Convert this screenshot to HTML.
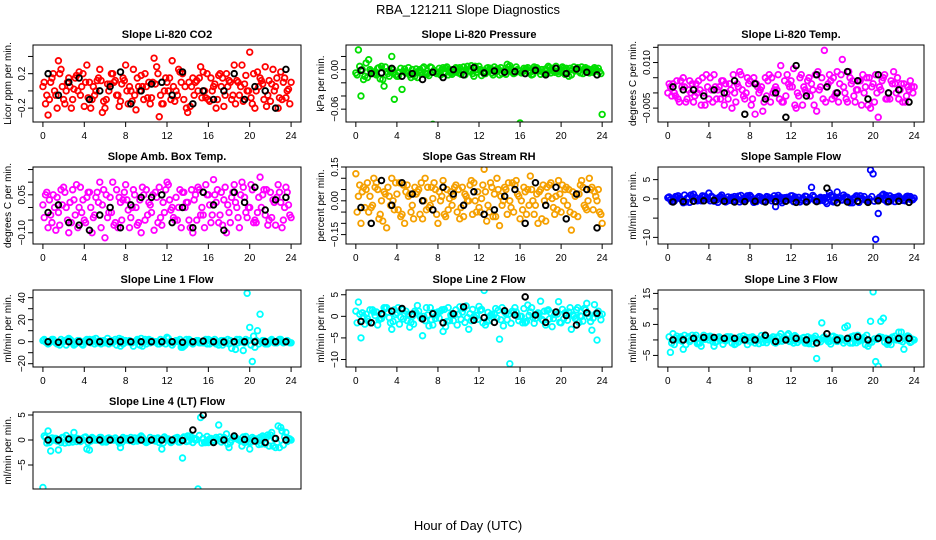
<!DOCTYPE html>
<html><head><meta charset="utf-8"><style>
body{margin:0;background:#fff}
svg{display:block;font-family:"Liberation Sans",sans-serif}
</style></head><body>
<svg id="c" width="936" height="540" viewBox="0 0 936 540">
<text x="468" y="14" text-anchor="middle" font-size="13">RBA_121211  Slope Diagnostics</text>
<text x="468" y="530" text-anchor="middle" font-size="13">Hour of Day (UTC)</text>
</svg>
<script>
const hrsA=[0,0.5,1,1.5,2,2.5,3,3.5,4,4.5,5,5.5,6,6.5,7,7.5,8,8.5,9,9.5,10,10.5,11,11.5,12,12.5,13,13.5,14,14.5,15,15.5,16,16.5,17,17.5,18,18.5,19,19.5,20,20.5,21,21.5,22,22.5,23,23.5,24];
const hrsB=[0.25,0.75,1.25,1.75,2.25,2.75,3.25,3.75,4.25,4.75,5.25,5.75,6.25,6.75,7.25,7.75,8.25,8.75,9.25,9.75,10.25,10.75,11.25,11.75,12.25,12.75,13.25,13.75,14.25,14.75,15.25,15.75,16.25,16.75,17.25,17.75,18.25,18.75,19.25,19.75,20.25,20.75,21.25,21.75,22.25,22.75,23.25,23.75];
const hrsC=[0.125,0.625,1.125,1.625,2.125,2.625,3.125,3.625,4.125,4.625,5.125,5.625,6.125,6.625,7.125,7.625,8.125,8.625,9.125,9.625,10.125,10.625,11.125,11.625,12.125,12.625,13.125,13.625,14.125,14.625,15.125,15.625,16.125,16.625,17.125,17.625,18.125,18.625,19.125,19.625,20.125,20.625,21.125,21.625,22.125,22.625,23.125,23.625];
const hrsD=[0.375,0.875,1.375,1.875,2.375,2.875,3.375,3.875,4.375,4.875,5.375,5.875,6.375,6.875,7.375,7.875,8.375,8.875,9.375,9.875,10.375,10.875,11.375,11.875,12.375,12.875,13.375,13.875,14.375,14.875,15.375,15.875,16.375,16.875,17.375,17.875,18.375,18.875,19.375,19.875,20.375,20.875,21.375,21.875,22.375,22.875,23.375,23.875];
const hrsK=[0.5,1.5,2.5,3.5,4.5,5.5,6.5,7.5,8.5,9.5,10.5,11.5,12.5,13.5,14.5,15.5,16.5,17.5,18.5,19.5,20.5,21.5,22.5,23.5];
const xTicks=[0,4,8,12,16,20,24];

const co2A=[0.05,-0.28,0.2,0.35,-0.1,0.15,0.02,0.22,-0.18,0.1,-0.05,0.25,-0.2,0.08,0.12,-0.12,0.3,0.0,-0.22,0.18,0.05,-0.08,0.28,-0.15,0.1,0.35,-0.05,0.2,-0.25,0.15,0.0,0.22,-0.1,0.05,0.18,-0.18,0.12,0.3,-0.05,0.08,0.45,-0.2,0.15,0.28,-0.12,0.05,0.22,-0.08,0.1];
const co2B=[-0.15,0.1,-0.05,0.25,0.0,-0.2,0.18,0.05,0.3,-0.1,0.12,-0.25,0.08,0.2,-0.05,0.15,-0.15,0.25,0.05,-0.1,0.1,0.38,-0.3,0.0,0.15,-0.12,0.22,0.05,-0.18,0.1,0.28,-0.08,0.15,-0.2,0.05,0.2,-0.1,0.12,0.3,0.0,-0.15,0.22,0.08,-0.05,0.25,-0.2,0.1,0.02];
const co2C=[0.1,-0.1,0.0,0.2,-0.15,0.05,0.15,-0.05,0.1,-0.2,0.0,0.12,-0.1,0.2,-0.05,0.08,0.0,-0.12,0.15,0.05,-0.08,0.1,0.2,-0.15,0.0,0.05,0.25,-0.1,0.1,-0.05,0.15,0.0,-0.12,0.08,0.2,-0.05,0.1,-0.15,0.05,0.18,-0.08,0.0,0.12,-0.18,0.08,0.15,-0.1,0.0];
const co2D=[-0.05,0.15,-0.2,0.05,0.1,-0.1,0.0,0.2,-0.08,0.05,0.15,-0.12,0.0,0.1,-0.18,0.12,0.05,-0.05,0.0,0.2,-0.15,0.08,-0.05,0.15,-0.1,0.0,0.1,-0.2,0.05,0.12,-0.08,0.2,0.0,-0.1,0.15,0.05,-0.05,0.1,-0.12,0.0,0.2,0.05,-0.1,0.12,0.0,-0.08,0.15,-0.15];
const co2K=[0.2,-0.05,0.1,0.15,-0.1,0.0,0.05,0.22,-0.15,0.0,0.08,0.1,-0.05,0.22,-0.15,0.0,-0.1,0.0,0.2,-0.1,0.05,0.0,-0.2,0.25];

const presA=[-0.005,-0.04,0.01,-0.002,-0.008,0.005,-0.003,0.02,-0.01,-0.03,-0.005,0.0,-0.012,0.002,-0.006,-0.083,-0.004,0.003,-0.008,0.0,-0.005,0.004,-0.002,-0.01,0.005,-0.006,0.0,0.004,-0.008,-0.003,0.006,-0.005,-0.081,0.0,-0.004,0.002,-0.007,0.001,-0.005,0.005,-0.003,0.002,-0.008,0.0,0.004,-0.003,0.0,-0.002,-0.068];
const presB=[0.03,-0.015,0.015,-0.006,0.003,-0.025,-0.01,-0.045,-0.004,0.001,-0.008,-0.01,0.0,-0.006,0.004,-0.003,-0.008,0.002,-0.005,0.003,-0.007,0.0,0.006,-0.004,-0.009,0.002,-0.005,0.001,-0.006,0.008,-0.004,0.0,-0.003,0.003,-0.007,0.001,-0.004,0.005,-0.002,-0.006,0.002,-0.01,0.004,-0.002,0.001,-0.005,0.003,-0.003];
const presC=[-0.008,0.0,-0.012,-0.004,0.002,-0.015,-0.006,0.0,-0.01,-0.003,0.003,-0.007,-0.002,0.004,-0.009,-0.001,0.002,-0.006,0.0,-0.004,0.003,-0.008,-0.002,0.005,0.0,-0.006,0.002,-0.004,0.003,-0.007,0.0,0.004,-0.005,0.001,-0.008,0.003,0.0,-0.006,0.002,-0.003,0.004,-0.005,0.0,0.003,-0.006,0.001,-0.004,0.002];
const presD=[0.005,-0.01,0.0,-0.006,-0.014,0.004,-0.003,-0.008,0.002,-0.005,-0.012,0.001,-0.004,-0.007,0.003,-0.006,0.0,0.004,-0.007,0.002,-0.003,0.005,-0.006,0.0,-0.004,0.003,-0.008,0.001,-0.002,0.004,-0.006,-0.002,0.002,-0.005,0.004,-0.002,-0.006,0.003,-0.004,0.001,-0.007,0.002,-0.002,-0.005,0.003,-0.003,0.001,-0.006];
const presK=[-0.001,-0.006,-0.005,0.002,-0.01,-0.006,-0.015,-0.004,-0.012,0.0,-0.008,0.003,-0.005,-0.002,-0.004,-0.003,-0.006,-0.001,-0.008,0.002,-0.006,0.001,-0.004,-0.008];

const tempA=[0.0,0.003,-0.002,0.005,0.001,-0.003,0.004,0.0,-0.002,0.006,0.002,-0.004,0.003,0.0,0.007,-0.002,0.004,-0.007,0.001,0.005,-0.003,0.002,0.009,-0.001,0.004,-0.005,0.006,0.0,0.003,-0.006,0.005,0.002,-0.002,0.007,0.011,-0.003,0.004,0.001,0.006,-0.004,0.003,-0.008,0.005,0.0,0.007,-0.002,0.003,0.001,0.002];
const tempB=[0.002,-0.001,0.004,-0.003,0.0,0.003,-0.004,0.006,0.001,-0.002,0.004,0.0,-0.005,0.003,0.001,0.005,-0.002,0.002,-0.006,0.004,0.0,0.006,-0.003,0.003,0.008,-0.001,0.002,0.005,-0.004,0.001,0.014,0.006,-0.001,0.003,0.0,0.005,-0.003,0.004,0.002,-0.005,0.006,0.001,-0.002,0.004,0.0,0.003,-0.001,0.002];
const tempC=[0.003,0.0,-0.003,0.002,0.004,-0.001,0.001,-0.004,0.005,0.002,-0.002,0.003,0.001,-0.003,0.006,0.0,-0.004,0.003,0.002,-0.001,0.005,0.001,-0.003,0.006,0.002,0.0,-0.004,0.004,0.001,0.007,-0.002,0.003,0.005,-0.003,0.002,0.007,-0.001,0.004,0.0,0.005,-0.003,0.002,0.006,-0.002,0.003,0.001,-0.003,0.004];
const tempD=[-0.001,0.004,0.002,-0.002,0.003,0.0,0.005,0.002,-0.003,0.001,0.004,-0.002,0.006,0.002,-0.001,0.003,0.005,0.0,-0.003,0.006,0.001,-0.002,0.004,0.002,-0.004,0.005,0.001,-0.001,0.006,0.002,-0.003,0.004,0.0,0.006,-0.002,0.003,0.001,-0.004,0.005,0.002,0.0,0.004,-0.002,0.003,0.005,-0.003,0.002,0.0];
const tempK=[0.002,0.001,0.001,-0.001,0.001,0.0,0.004,-0.007,0.003,-0.002,0.0,-0.008,0.009,-0.001,0.006,0.002,0.0,0.007,0.004,-0.002,0.006,0.0,0.001,-0.003];

const ambA=[0.01,-0.08,0.05,-0.02,0.08,-0.1,0.03,0.0,-0.05,0.06,-0.03,0.1,-0.12,0.04,-0.06,0.02,0.09,-0.04,0.0,-0.1,0.07,-0.02,0.04,-0.07,0.1,0.0,-0.05,0.06,0.02,-0.1,0.08,-0.03,0.05,0.11,-0.06,0.03,-0.02,0.09,-0.08,0.04,0.0,-0.05,0.12,-0.03,0.06,-0.07,0.02,0.08,-0.04];
const ambB=[0.05,-0.03,-0.09,0.07,0.0,-0.06,0.09,-0.02,0.04,-0.1,0.06,0.01,-0.04,0.1,-0.08,0.03,-0.01,0.07,-0.06,0.05,0.02,-0.09,0.08,-0.02,0.03,-0.05,0.07,0.0,-0.08,0.05,-0.03,0.09,-0.06,0.02,0.06,-0.1,0.04,0.0,0.1,-0.04,0.07,-0.02,0.05,-0.07,0.03,0.09,-0.05,0.01];
const ambC=[-0.04,0.03,0.0,-0.07,0.06,0.02,-0.03,0.08,-0.06,0.0,0.04,-0.08,0.05,-0.02,0.07,-0.05,0.03,0.0,-0.07,0.08,-0.03,0.05,-0.06,0.02,0.09,-0.04,0.0,0.06,-0.05,0.03,0.07,-0.08,0.01,0.05,-0.03,0.08,-0.06,0.02,0.05,-0.02,0.09,-0.06,0.0,0.07,-0.04,0.04,-0.08,0.06];
const ambD=[0.06,-0.06,0.04,0.01,-0.05,0.07,-0.08,0.03,0.06,-0.04,0.02,0.07,-0.02,-0.07,0.04,0.06,-0.08,0.05,0.03,-0.05,0.01,0.06,-0.04,0.07,-0.01,0.04,-0.08,0.02,0.07,-0.05,0.0,0.05,-0.03,0.07,-0.07,0.01,0.06,-0.04,0.08,0.0,-0.06,0.04,0.07,-0.05,0.02,0.06,0.0,-0.03];
const ambK=[-0.02,0.01,-0.06,-0.07,-0.09,-0.03,0.0,-0.08,0.01,0.04,0.04,0.05,-0.06,0.0,-0.08,0.06,0.01,-0.09,0.06,0.02,0.08,-0.01,0.03,0.04];

const rhA=[0.12,-0.1,0.05,-0.03,0.08,0.0,-0.12,0.1,0.03,-0.06,0.07,-0.02,0.04,-0.08,0.06,0.01,-0.1,0.09,-0.04,0.02,0.05,-0.07,0.0,0.08,-0.03,0.14,-0.05,0.03,-0.11,0.06,0.0,0.07,-0.08,0.04,0.11,-0.02,0.05,-0.09,0.08,0.02,-0.05,0.06,-0.13,0.03,0.09,-0.04,0.06,0.0,-0.1];
const rhB=[0.02,0.06,-0.05,0.1,-0.08,0.04,0.02,-0.04,0.08,-0.1,0.03,0.06,-0.06,0.1,-0.02,0.05,0.0,-0.07,0.04,0.07,-0.03,0.02,0.09,-0.05,0.01,-0.09,0.06,0.1,-0.02,-0.06,0.08,0.03,-0.04,0.05,0.0,-0.1,0.07,0.02,-0.03,0.09,0.0,0.05,-0.06,0.03,-0.02,0.1,0.04,-0.05];
const rhC=[-0.05,0.04,0.08,-0.02,0.05,-0.09,0.06,0.0,-0.04,0.07,0.02,-0.08,0.05,0.0,-0.03,0.08,0.04,-0.06,0.01,0.06,-0.08,0.03,0.07,0.0,-0.05,0.04,0.08,-0.07,0.02,0.05,-0.03,0.09,0.0,-0.06,0.05,0.03,-0.08,0.06,0.01,-0.04,0.07,-0.02,0.04,-0.07,0.06,0.0,-0.04,0.05];
const rhD=[0.07,-0.03,0.02,0.06,-0.06,0.03,-0.02,0.08,-0.07,0.04,-0.05,0.03,0.08,-0.04,0.06,-0.06,0.02,0.05,-0.02,-0.05,0.06,0.0,-0.06,0.04,0.07,-0.02,-0.07,0.05,0.0,0.08,-0.05,0.02,0.06,-0.02,-0.06,0.04,0.0,0.07,-0.06,0.03,0.05,-0.05,0.02,0.07,-0.03,0.05,0.02,-0.06];
const rhK=[-0.03,-0.1,0.09,-0.02,0.08,0.03,0.0,-0.04,0.06,0.03,-0.02,0.04,-0.06,-0.04,0.02,0.05,-0.1,0.08,-0.02,0.06,-0.08,0.03,0.05,-0.12];

const sfA=[0.3,-0.5,0.8,-1.0,0.2,1.2,-0.3,0.5,1.5,-0.6,0.4,0.0,-0.4,0.6,-0.8,0.3,0.9,-0.2,0.5,-0.7,0.2,-2.0,0.4,-0.5,0.8,0.0,-0.3,0.6,3.0,-0.4,0.2,-1.2,0.5,1.8,-0.3,0.4,-1.0,0.6,0.0,-0.5,6.5,-3.8,1.2,-0.6,0.3,0.7,-0.4,0.5,0.2];
const sfB=[-0.2,0.6,0.0,-0.8,1.0,0.3,-0.5,0.2,0.7,-0.3,1.0,-0.6,0.4,0.0,-0.4,0.8,-0.2,0.3,-0.6,0.5,0.0,0.9,-0.4,0.2,-0.7,0.4,0.0,-0.2,0.5,-0.5,0.3,1.6,-0.6,0.2,0.5,-1.0,0.0,0.8,-0.3,7.5,-10.5,0.0,0.9,-0.5,0.4,0.0,0.6,-0.3];
const sfC=[0.5,-0.6,0.2,1.0,-0.9,0.4,-0.2,0.7,-0.5,0.1,0.6,-0.8,0.3,-0.4,0.9,-0.2,0.5,-0.7,0.0,0.6,-0.5,0.3,-1.0,0.4,0.8,-0.3,0.2,-0.6,0.9,0.0,-0.4,0.5,-0.8,0.3,1.0,-0.5,0.2,-0.9,0.6,0.0,-0.6,0.4,-0.3,0.8,-0.7,0.2,-0.5,0.6];
const sfD=[-0.7,0.4,-0.3,0.2,0.6,-0.5,0.8,-0.1,0.4,-0.9,0.2,0.5,-0.6,0.7,-0.2,0.3,-0.9,0.6,-0.4,0.2,0.8,-0.6,0.3,-0.2,0.5,-0.8,0.7,0.1,-0.5,0.4,-0.7,0.9,0.2,-0.3,0.5,-0.6,0.8,0.0,-0.4,0.6,-0.2,0.9,-0.8,0.3,0.5,-0.4,0.7,-0.2];
const sfK=[-0.8,-0.7,-0.6,-0.5,-0.4,-0.6,-0.8,-0.7,-0.6,-0.8,-0.7,-0.6,-0.9,-0.8,-0.7,2.8,-1.0,-0.8,-0.6,-0.9,-0.5,-0.7,-0.6,-0.9];

const l1A=[1,-2,2,-1,0,3,-3,1,0,2,-2,1,-1,0,2,-4,1,-1,0,3,-2,1,0,-1,4,-3,1,-5,0,-2,1,-1,2,0,-3,1,-2,0,2,-1,13,-5,25,-2,1,-1,2,0,-1];
const l1B=[0,1,-1,2,-3,1,0,-2,2,1,-1,0,3,-1,1,-2,0,-4,1,-1,2,0,-2,1,-1,0,2,-3,1,0,-1,2,0,-2,1,-1,-6,2,0,44,-18,10,1,-2,0,1,-1,0];
const l1C=[2,-1,0,-3,1,2,-2,0,1,-1,3,-2,0,1,-3,2,0,-1,2,-4,1,0,-2,1,3,-1,0,-4,2,0,-1,1,-2,2,0,-1,1,-7,0,2,-3,1,0,-2,2,-1,0,1];
const l1D=[-1,2,-2,0,2,-1,1,-3,0,2,-1,1,-2,0,3,-1,1,0,-3,2,-1,0,2,-2,0,1,-5,2,-1,1,0,-2,1,0,-3,2,0,-1,-8,1,5,-2,1,0,-1,2,0,-1];
const l1K=[0,-0.5,0,0,-0.3,0,0,0,0,0,0,0,0,-0.5,0,0.5,0,-0.3,0,0,-0.2,0,0,0];

const l2A=[1.2,-5,0.5,-1.5,1,-0.5,2,-3,0.8,1.5,-1,0,2.5,-4.5,0.3,-2,1,-3.5,2,-1,0.5,1.8,-3,0,2.3,6,-1,0.5,-5.3,1,-11,2,0,-1.5,1,-0.5,3.5,-2,0.8,1,-1.5,0.5,-3,1.5,0,3,-3.2,-5.5,0.5];
const l2B=[3.3,0,-1.2,1,-0.8,2,-0.3,1.5,-1.8,0.6,-2.5,1.2,0,-1,2,-0.5,1.2,-2.4,0.3,1.5,-0.7,2.4,-1,0.2,1.6,-1.2,0.5,-0.4,2,-0.8,1.2,0,-1.5,2.6,-0.3,0.8,-1,1.5,-0.5,3.4,-0.6,1,0,-1.4,1.8,-0.2,2.7,0.3];
const l2C=[-1.5,0.8,-0.5,1.5,-2,0.3,1,-1.2,2,-0.6,0.5,-1.8,1.2,0,-2.2,0.8,-0.4,1.6,-1,0.4,2.2,-1.4,0.6,-0.3,1.4,-2,0.2,1.8,-0.8,0.6,-1.6,1,0,-1.2,2,0.4,-0.7,1.3,-2.4,0.5,1.6,-0.9,0.3,2,-1.1,0.7,-0.4,1.2];
const l2D=[0.5,-1.8,1.5,0.2,-0.6,1.8,-1.5,0.4,-0.2,1.2,-1.4,0.8,-0.5,2,-0.8,0.3,1.5,-1.2,0.6,-2,1,-0.3,1.6,-0.7,-1.5,0.9,-0.2,1.4,-2.2,0.5,0.9,-1,1.8,0.2,-1.6,0.7,1.2,-0.6,0.4,-1.4,0.8,2,-0.5,0.1,1.5,-1.2,0.6,-0.8];
const l2K=[-1.2,-1.5,0.6,1.2,1.8,0.5,-0.6,0.6,-1.5,0.6,2.2,-0.9,-0.3,-1.4,1.3,0.3,4.5,0.3,-1.4,1.0,0.2,-2.0,0.8,0.7];

const l3A=[-10,2,0,-3,1,0.5,-1,1.5,0,-2,1,0,0.5,-1.5,1,0,0.8,-1,0,1.5,0.5,-1,2,0,-0.5,1,0,-1,0.5,-6,5.5,0,1,-0.5,0,4.5,-1,1.5,0,-2,15.5,-8.5,7,-1,0.5,2.5,-3,1,0];
const l3B=[-4,0.5,1,-1.5,0,1.5,-2,0.5,1,-0.5,0,1,-1,0.5,0,-1.5,1,0.3,-0.8,0,1,-0.5,0.5,2,-1,0,0.8,-1.2,0.5,0,1,-0.5,0,0.6,4,-1,0.5,0,-1.5,6,-7,6,0.5,-1.5,0,2.5,0,-0.5];
const l3C=[1,-1.5,0.5,1.5,-0.5,0.8,-1,0.2,1.2,-0.8,0.5,-0.3,1,-1.2,0.3,0.8,-0.6,0,1.4,-0.9,0.4,0.9,-0.4,1.5,0,-0.8,0.6,1,-1.3,0.2,0.7,-0.5,1.2,0,-1,0.5,1.3,-0.4,0.8,-1.1,0.3,1,-0.7,0.4,1.2,-0.2,0.6,-0.8];
const l3D=[-1,1.2,-0.4,0.6,1.5,-1.2,0.3,1,-0.6,0.8,-1.4,1,0.2,-0.7,1.3,-0.3,0.5,-1.2,0.9,0.4,-0.8,1.1,0,-0.5,1.4,0.2,-1,0.6,1.2,-0.6,0.3,-1.3,0.8,0.5,-0.4,1,-0.9,0.4,1.5,-0.7,0.2,0.8,-1.4,0.9,0.1,-0.6,1.3,0.2];
const l3K=[0,0,0.5,0.8,0.8,0.5,0.5,0,0,1.5,-0.5,0,0.5,0,-1,2,0,0.5,1,0,0.5,0,0.5,0.5];

const l4A=[-9.5,1.8,0,-2,0.5,-0.5,1.5,0,0.5,-2,0,0.5,-0.3,0,0.4,-1.5,0,0.5,0,0.8,-0.5,0,0.3,-1.8,0,-0.3,0.5,-3.6,0.8,-0.5,-9.8,0.3,-0.5,0,3,0.5,-1.5,0.8,0,-0.5,-1.8,0,0.5,-0.8,1,-1.5,2.5,1.5,0];
const l4B=[0.5,-2.2,0.3,-0.5,0.9,0,-0.3,0.2,-1.8,0.5,0,-0.4,0.3,0,-0.2,0.5,0,-0.3,0.4,0,-0.2,0.3,-0.5,0.6,0,0.3,-0.4,0.5,0.8,0,4.5,-0.5,0.3,0.5,-0.4,1.2,0,0.3,-1.2,0,0.5,-0.3,0.8,1,-1.2,2.8,-1,0.3];
const l4C=[0.8,-0.5,0.3,0,-0.6,0.4,0.1,-0.3,0.6,-0.2,0,0.5,-0.4,0.2,0,-0.5,0.3,0.1,-0.2,0.5,-0.3,0,0.4,-0.6,0.2,0,-0.4,0.6,-0.2,0.3,0.9,-0.5,0.2,-0.3,0.6,0,-0.5,0.4,-0.2,0.7,-0.4,0.2,-0.8,0.5,1.5,-0.6,1.8,-0.3];
const l4D=[-0.6,0.4,-0.2,0.5,0.1,-0.4,0.3,0,-0.5,0.3,0.2,-0.3,0.4,0,-0.6,0.2,-0.1,0.4,0,-0.3,0.5,-0.2,0,0.3,-0.5,0.4,0,-0.3,0.5,0.1,-0.6,0.7,-0.3,0.2,0,-0.8,0.4,0.1,0.6,-0.4,0.2,-0.9,0.5,-1.2,0.3,-1.5,0.6,0.2];
const l4K=[0,0,0.2,0,0,0,0,0,0,0,0,0,0,-0.1,2,5,-0.5,0,0.8,0.1,-0.2,-0.5,0.3,0];

const panels=[
 {name:'co2',title:'Slope Li-820 CO2',ylab:'Licor ppm per min.',col:0,row:0,lo:-0.361,hi:0.533,ticks:[-0.2,0,0.2,0.4],labs:{'-0.2':'-0.2','0.2':'0.2'},color:'#ff0000',A:co2A,B:co2B,C:co2C,D:co2D,K:co2K},
 {name:'pressure',title:'Slope Li-820 Pressure',ylab:'kPa per min.',col:1,row:0,lo:-0.0795,hi:0.0374,ticks:[-0.06,-0.04,-0.02,0,0.02],labs:{'-0.06':'-0.06','0':'0.00'},color:'#00dd00',A:presA,B:presB,C:presC,D:presD,K:presK},
 {name:'temp',title:'Slope Li-820 Temp.',ylab:'degrees C per min.',col:2,row:0,lo:-0.00957,hi:0.01577,ticks:[-0.005,0,0.005,0.01,0.015],labs:{'-0.005':'-0.005','0.01':'0.010'},color:'#ff00ff',A:tempA,B:tempB,C:tempC,D:tempD,K:tempK},
 {name:'amb-box-temp',title:'Slope Amb. Box Temp.',ylab:'degrees C per min.',col:0,row:1,lo:-0.1445,hi:0.16,ticks:[-0.1,-0.05,0,0.05,0.1,0.15],labs:{'-0.1':'-0.10','0.05':'0.05'},color:'#ff00ff',A:ambA,B:ambB,C:ambC,D:ambD,K:ambK},
 {name:'gas-stream-rh',title:'Slope Gas Stream RH',ylab:'percent per min.',col:1,row:1,lo:-0.1917,hi:0.15,ticks:[-0.15,-0.1,-0.05,0,0.05,0.1,0.15],labs:{'-0.15':'-0.15','0':'0.00','0.15':'0.15'},color:'#f5a000',A:rhA,B:rhB,C:rhC,D:rhD,K:rhK},
 {name:'sample-flow',title:'Slope Sample Flow',ylab:'ml/min per min.',col:2,row:1,lo:-11.72,hi:8.28,ticks:[-10,-5,0,5],labs:{'-10':'-10','0':'0','5':'5'},color:'#0000ff',A:sfA,B:sfB,C:sfC,D:sfD,K:sfK},
 {name:'line1-flow',title:'Slope Line 1 Flow',ylab:'ml/min per min.',col:0,row:2,lo:-23,hi:47,ticks:[-20,-10,0,10,20,30,40],labs:{'-20':'-20','0':'0','20':'20','40':'40'},color:'#00ffff',A:l1A,B:l1B,C:l1C,D:l1D,K:l1K},
 {name:'line2-flow',title:'Slope Line 2 Flow',ylab:'ml/min per min.',col:1,row:2,lo:-11.74,hi:6.1,ticks:[-10,-5,0,5],labs:{'-10':'-10','-5':'-5','0':'0','5':'5'},color:'#00ffff',A:l2A,B:l2B,C:l2C,D:l2D,K:l2K},
 {name:'line3-flow',title:'Slope Line 3 Flow',ylab:'ml/min per min.',col:2,row:2,lo:-8.73,hi:16.1,ticks:[-5,0,5,10,15],labs:{'-5':'-5','5':'5','15':'15'},color:'#00ffff',A:l3A,B:l3B,C:l3C,D:l3D,K:l3K},
 {name:'line4-flow',title:'Slope Line 4 (LT) Flow',ylab:'ml/min per min.',col:0,row:3,lo:-9.8,hi:5.6,ticks:[-10,-5,0,5],labs:{'-10':'-10','-5':'-5','0':'0','5':'5'},color:'#00ffff',A:l4A,B:l4B,C:l4C,D:l4D,K:l4K,noX:true}
];
const colL=[33,346,658], colW=[268,266,266], rowT=[45,167,290,412], boxH=77;
const NS='http://www.w3.org/2000/svg';
const svg=document.getElementById('c');
function mk(tag,attrs,parent){const e=document.createElementNS(NS,tag);for(const k in attrs)e.setAttribute(k,attrs[k]);parent.appendChild(e);return e;}
panels.forEach(p=>{
  const L=colL[p.col],W=colW[p.col],T=rowT[p.row],B=T+boxH;
  const x0=L+W*0.037,x1=L+W*(1-0.037);
  const xs=h=>x0+(h/24)*(x1-x0);
  const ys=v=>B-(v-p.lo)/(p.hi-p.lo)*boxH;
  const g=mk('g',{},svg);
  
  
  const t=mk('text',{x:L+W/2,y:T-7,'text-anchor':'middle','font-size':11,'font-weight':'bold'},g);t.textContent=p.title;
  
  
  const pts=mk('g',{fill:'none'},g);
  
  
  const clip=mk('clipPath',{id:'cp'+p.name},g);mk('rect',{x:L,y:T,width:W,height:boxH},clip);
  pts.setAttribute('clip-path','url(#cp'+p.name+')');
  const drawSet=(hs,vs,col,r,sw)=>{vs.forEach((v,i)=>{if(hs[i]===undefined)return;const c=mk('circle',{cx:xs(hs[i]),cy:ys(v),r:r,stroke:col,'stroke-width':sw},pts);
    
    });};
  drawSet(hrsA,p.A,p.color,2.8,1.8);
  drawSet(hrsB,p.B,p.color,2.8,1.8);
  drawSet(hrsC,p.C,p.color,2.8,1.8);
  drawSet(hrsD,p.D,p.color,2.8,1.8);
  drawSet(hrsK,p.K,'#000',2.8,1.9);
  const box=mk('rect',{x:L,y:T,width:W,height:boxH,fill:'none',stroke:'#000','stroke-width':1},g);
  
  
  if(!p.noX){
    const xa=mk('g',{},g);
    
    
    mk('line',{x1:xs(0),x2:xs(24),y1:B,y2:B,stroke:'#000'},xa);
    xTicks.forEach(h=>{mk('line',{x1:xs(h),x2:xs(h),y1:B,y2:B+5,stroke:'#000'},xa);
      const tl=mk('text',{x:xs(h),y:B+17,'text-anchor':'middle','font-size':10},xa);tl.textContent=h;});
  }
  const ya=mk('g',{},g);
  
  
  const tk=p.ticks.filter(v=>v>=p.lo-1e-9&&v<=p.hi+1e-9);
  mk('line',{x1:L,x2:L,y1:ys(tk[0]),y2:ys(tk[tk.length-1]),stroke:'#000'},ya);
  tk.forEach(v=>{const y=ys(v);mk('line',{x1:L-5,x2:L,y1:y,y2:y,stroke:'#000'},ya);
    const lab=p.labs[String(v)];
    if(lab!==undefined){const tl=mk('text',{x:L-8,y:y,'text-anchor':'middle','font-size':10,transform:`rotate(-90 ${L-8} ${y})`},ya);tl.textContent=lab.replace('-','\u2212');}});
  const yl=mk('text',{x:L-22,y:(T+B)/2,'text-anchor':'middle','font-size':10,transform:`rotate(-90 ${L-22} ${(T+B)/2})`},g);
  yl.textContent=p.ylab;
  
  
});
</script>
</body></html>
